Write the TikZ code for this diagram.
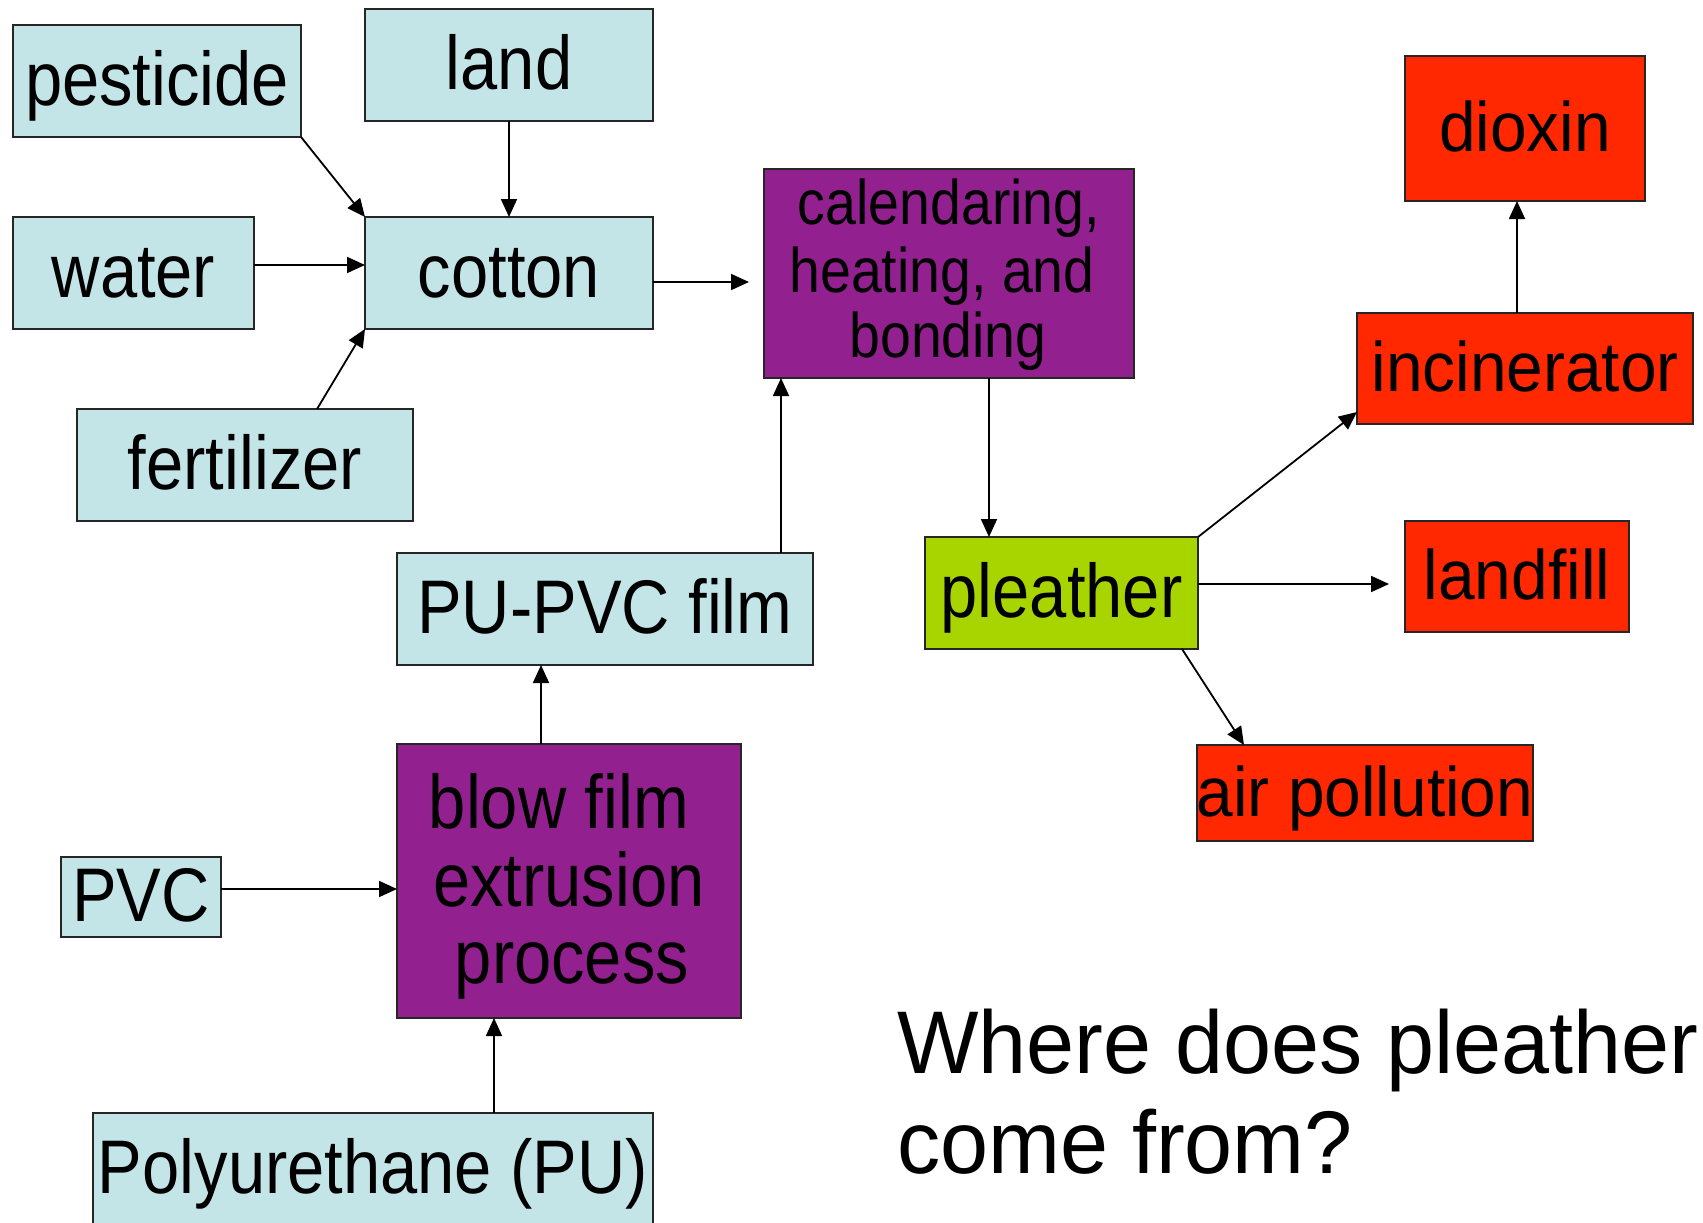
\documentclass[tikz,border=0pt]{standalone}
\usepackage{fontspec}
\setmainfont{Liberation Sans}
\newfontfamily\nfont[FakeStretch=0.88]{Liberation Sans}
\newfontfamily\rfont[FakeStretch=0.94]{Liberation Sans}
\newfontfamily\tfont[FakeStretch=0.97]{Liberation Sans}
\usetikzlibrary{arrows.meta}
\definecolor{lblue}{RGB}{196,229,232}
\definecolor{purp}{RGB}{147,32,143}
\definecolor{lime}{RGB}{168,212,0}
\definecolor{fire}{RGB}{255,40,0}
\begin{document}
\begin{tikzpicture}[x=1pt,y=-1pt,
  box/.style={draw=black!85,line width=1.6pt,inner sep=0pt,outer sep=0pt,
    text height=48pt,text depth=0pt,font=\nfont\fontsize{76}{78}\selectfont},
  bluebox/.style={box,fill=lblue},
  redbox/.style={box,fill=fire,text height=46pt,font=\rfont\fontsize{70}{72}\selectfont},
  purpbox/.style={box,fill=purp},
  greenbox/.style={box,fill=lime},
  bigtxt/.style={anchor=base,inner sep=0pt,font=\nfont\fontsize{76}{78}\selectfont},
  midtxt/.style={anchor=base,inner sep=0pt,font=\nfont\fontsize{63}{67}\selectfont},
  titletxt/.style={anchor=base west,inner sep=0pt,font=\tfont\fontsize{89}{100}\selectfont},
  arr/.style={line width=1.8pt,-{Triangle[length=18pt,width=16pt]}}]
\useasboundingbox (0,0) rectangle (1703,1223);

% input boxes
\node[bluebox,minimum width=288pt,minimum height=112pt] (pest) at (157,81) {pesticide};
\node[bluebox,minimum width=288pt,minimum height=112pt] (land) at (509,65) {land};
\node[bluebox,minimum width=241pt,minimum height=112pt] (water) at (133.5,273) {water};
\node[bluebox,minimum width=288pt,minimum height=112pt] (cotton) at (509,273) {cotton};
\node[bluebox,minimum width=336pt,minimum height=112pt] (fert) at (245,465) {fertilizer};
\node[bluebox,minimum width=416pt,minimum height=112pt] (film) at (605,609) {PU-PVC film};
\node[bluebox,minimum width=160pt,minimum height=80pt] (pvc) at (141,897) {PVC};
\node[bluebox,minimum width=560pt,minimum height=112pt] (poly) at (373,1169) {Polyurethane (PU)};

% process boxes
\node[purpbox,minimum width=370pt,minimum height=209pt] (calend) at (949,273.5) {};
\node[midtxt] (cal1) at (949,224) {calendaring,};
\node[midtxt] (cal2) at (942,292) {heating, and};
\node[midtxt] (cal3) at (948,357) {bonding};

\node[purpbox,minimum width=344pt,minimum height=274pt] (blow) at (569,881) {};
\node[bigtxt] (bl1) at (559,828) {blow film};
\node[bigtxt] (bl2) at (569,906) {extrusion};
\node[bigtxt] (bl3) at (572,983) {process};

% product
\node[greenbox,minimum width=273pt,minimum height=112pt] (pleather) at (1061.5,593) {pleather};

% outputs
\node[redbox,minimum width=240pt,minimum height=145pt] (dioxin) at (1525,128.5) {dioxin};
\node[redbox,minimum width=336pt,minimum height=111pt] (incin) at (1525,368.5) {incinerator};
\node[redbox,minimum width=224pt,minimum height=111pt] (landfill) at (1517,576.5) {landfill};
\node[redbox,minimum width=336pt,minimum height=96pt] (air) at (1365,793) {air pollution};

% title
\node[titletxt] (title1) at (897,1073) {Where does pleather};
\node[titletxt] (title2) at (897,1173) {come from?};

% free ends
\coordinate (calin) at (749,282);
\coordinate (lfin) at (1389,584);

% connectors
\draw[arr] (pest.south east) -- (cotton.north west);
\draw[arr] (land.south) -- (cotton.north);
\draw[arr] ([yshift=8pt]water.east) -- ([yshift=8pt]cotton.west);
\draw[arr] ([xshift=72pt]fert.north) -- (cotton.south west);
\draw[arr] (cotton.east |- calin) -- (calin);
\draw[arr] ([xshift=176pt]film.north) -- ([xshift=176pt]film.north |- calend.south);
\draw[arr] ([xshift=40pt]calend.south) -- ([xshift=40pt]calend.south |- pleather.north);
\draw[arr] ([xshift=-28pt]blow.north) -- ([xshift=-28pt]blow.north |- film.south);
\draw[arr] ([yshift=8pt]pvc.east) -- ([yshift=8pt]pvc.east -| blow.west);
\draw[arr] ([xshift=121pt]poly.north) -- ([xshift=121pt]poly.north |- blow.south);
\draw[arr] (pleather.north east) -- ([yshift=-43.5pt]incin.west);
\draw[arr] (pleather.east |- lfin) -- (lfin);
\draw[arr] ([xshift=120.5pt]pleather.south) -- ([xshift=-121pt]air.north);
\draw[arr] ([xshift=-8pt]incin.north) -- ([xshift=-8pt]incin.north |- dioxin.south);
\end{tikzpicture}
\end{document}
